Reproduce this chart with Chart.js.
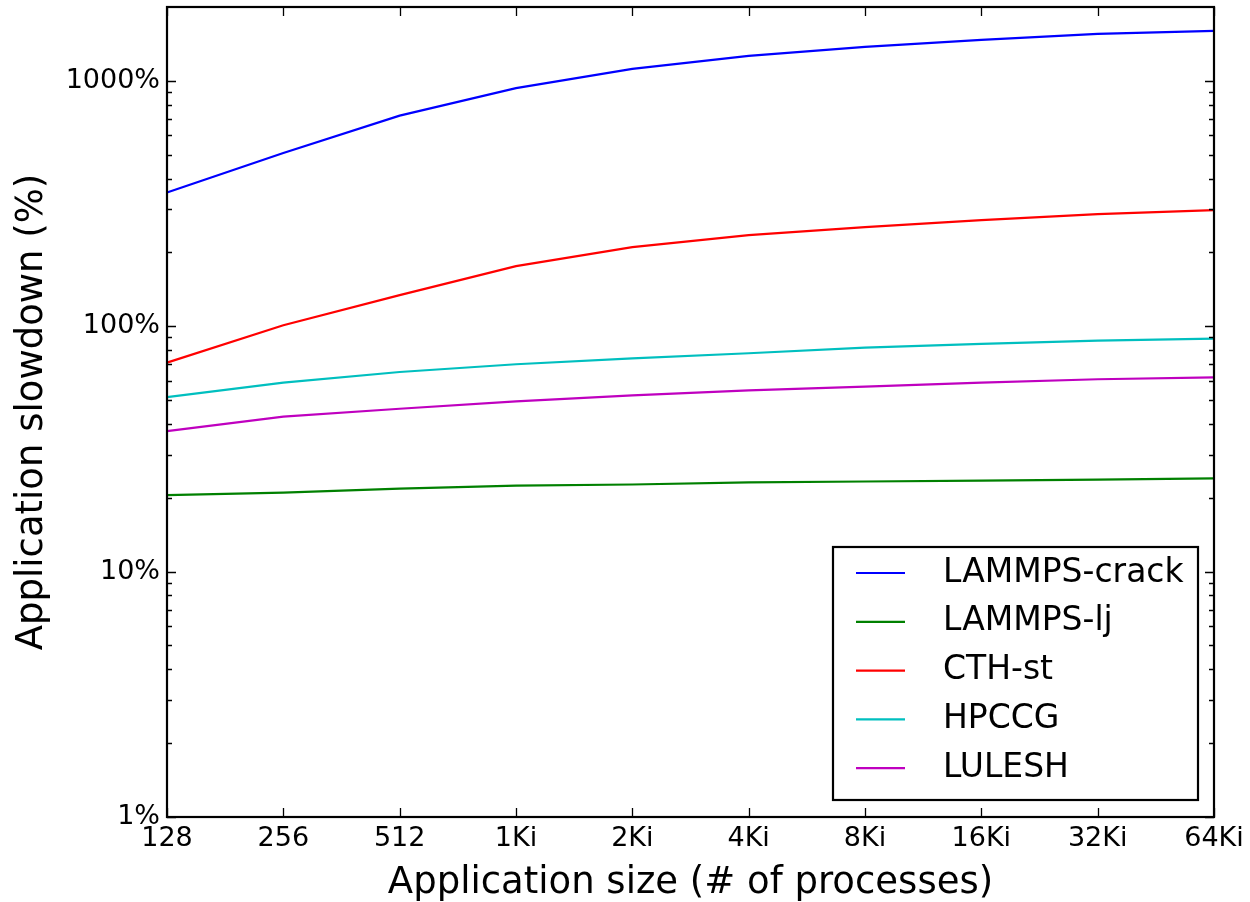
<!DOCTYPE html>
<html><head><meta charset="utf-8">
<script src="https://cdn.jsdelivr.net/npm/chart.js@4/dist/chart.umd.min.js"></script>
<style>html,body{margin:0;padding:0;background:#fff;overflow:hidden}#wrap{width:1250px;height:902px}</style>
</head><body><div id="wrap"><canvas id="c" width="1250" height="902"></canvas></div>
<script>
const categories = ['128','256','512','1Ki','2Ki','4Ki','8Ki','16Ki','32Ki','64Ki'];
const lammpsCrack = [351, 508, 722, 934, 1119, 1265, 1376, 1470, 1555, 1600];
const lammpsLj = [20.5, 21.0, 21.8, 22.4, 22.65, 23.1, 23.3, 23.5, 23.7, 24.0];
const cthSt = [71.1, 100.9, 133.9, 175.8, 210.1, 235.2, 253.6, 270.8, 286.6, 297.5];
const hpccg = [51.4, 58.9, 65.1, 70.0, 74.0, 77.6, 81.8, 84.7, 87.4, 89.1];
const lulesh = [37.4, 42.8, 46.1, 49.4, 52.3, 54.8, 56.7, 58.9, 60.8, 61.9];
const seriesNames = ['LAMMPS-crack', 'LAMMPS-lj', 'CTH-st', 'HPCCG', 'LULESH'];
const seriesColors = ['#0000ff', '#008000', '#ff0000', '#00bfbf', '#bf00bf'];
const yTickValues = [1, 10, 100, 1000];
const yMin = 1, yMax = 2000;
const xTitle = 'Application size (# of processes)';
const yTitle = 'Application slowdown (%)';

const FONT = '"DejaVu Sans", sans-serif';
Chart.defaults.color = '#000';
Chart.defaults.font.family = FONT;

const seriesData = [lammpsCrack, lammpsLj, cthSt, hpccg, lulesh];

const framePlugin = {
  id: 'frame',
  afterDraw(chart) {
    const { ctx, chartArea: a, scales: { x, y } } = chart;
    ctx.save();
    ctx.strokeStyle = '#000';
    ctx.lineWidth = 1.3;
    ctx.beginPath();
    categories.forEach((c, i) => {
      const px = Math.round(x.getPixelForValue(i)) + 0.5;
      ctx.moveTo(px, a.bottom); ctx.lineTo(px, a.bottom - 9);
      ctx.moveTo(px, a.top); ctx.lineTo(px, a.top + 9);
    });
    yTickValues.forEach(v => {
      const py = Math.round(y.getPixelForValue(v)) + 0.5;
      ctx.moveTo(a.left, py); ctx.lineTo(a.left + 9, py);
      ctx.moveTo(a.right, py); ctx.lineTo(a.right - 9, py);
    });
    for (let k = 0; k < 4; k++) {
      for (let m = 2; m <= 9; m++) {
        const v = m * Math.pow(10, k);
        if (v <= yMin || v >= yMax) continue;
        const py = Math.round(y.getPixelForValue(v)) + 0.5;
        ctx.moveTo(a.left, py); ctx.lineTo(a.left + 5, py);
        ctx.moveTo(a.right, py); ctx.lineTo(a.right - 5, py);
      }
    }
    ctx.stroke();
    ctx.lineWidth = 2.2;
    ctx.strokeRect(a.left, a.top, a.right - a.left, a.bottom - a.top);

    const bw = 365, bh = 253;
    const bx = a.right - 16 - bw, by = a.bottom - 17 - bh;
    ctx.fillStyle = '#fff';
    ctx.fillRect(bx, by, bw, bh);
    ctx.lineWidth = 2.2;
    ctx.strokeRect(bx, by, bw, bh);
    ctx.font = '33px ' + FONT;
    ctx.textBaseline = 'middle';
    ctx.textAlign = 'left';
    chart.data.datasets.forEach((ds, i) => {
      const ly = by + 26 + i * 48.8;
      ctx.strokeStyle = ds.borderColor;
      ctx.lineWidth = 2.2;
      ctx.beginPath();
      ctx.moveTo(bx + 23, ly); ctx.lineTo(bx + 72, ly);
      ctx.stroke();
      ctx.fillStyle = '#000';
      ctx.fillText(ds.label, bx + 110, ly);
    });
    ctx.restore();
  }
};

new Chart(document.getElementById('c'), {
  type: 'line',
  data: {
    labels: categories,
    datasets: seriesNames.map((n, i) => ({
      label: n,
      data: seriesData[i],
      borderColor: seriesColors[i],
      backgroundColor: seriesColors[i],
      borderWidth: 2.2,
      pointRadius: 0,
      tension: 0,
      fill: false
    }))
  },
  options: {
    responsive: false,
    devicePixelRatio: 1,
    animation: false,
    layout: { padding: { left: 0, top: 7, right: 36, bottom: 0 } },
    plugins: { legend: { display: false }, tooltip: { enabled: false } },
    scales: {
      x: {
        type: 'category',
        offset: false,
        grid: { display: false, drawTicks: false },
        border: { display: false },
        ticks: { font: { size: 27 }, padding: 6, autoSkip: false, maxRotation: 0 },
        title: { display: true, text: xTitle, font: { size: 37, lineHeight: 1.0 }, padding: { top: 0, bottom: 0 } },
        afterFit(s) { s.height = 85; s.paddingLeft = 0; s.paddingRight = 0; }
      },
      y: {
        type: 'logarithmic',
        min: yMin,
        max: yMax,
        bounds: 'data',
        grid: { display: false, drawTicks: false },
        border: { display: false },
        ticks: { font: { size: 27 }, padding: 7, autoSkip: false, callback: v => v + '%' },
        afterBuildTicks(s) { s.ticks = yTickValues.map(v => ({ value: v })); },
        title: { display: true, text: yTitle, font: { size: 37, lineHeight: 1.0 }, padding: { top: 14, bottom: 0 } },
        afterFit(s) { s.width = 167; s.paddingTop = 0; s.paddingBottom = 0; }
      }
    }
  },
  plugins: [framePlugin]
});
</script>
</body></html>
